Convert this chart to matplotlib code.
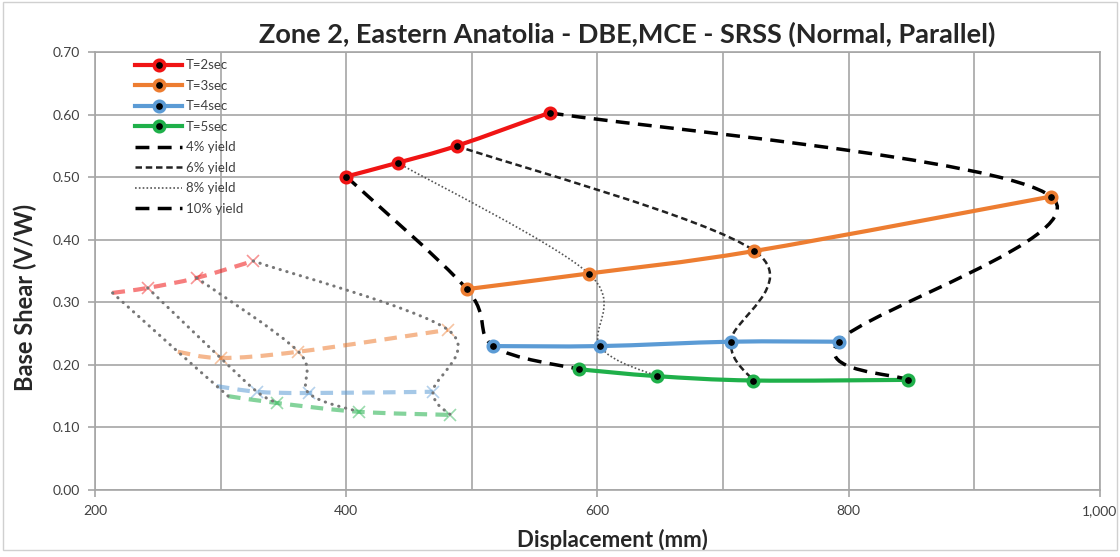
import numpy as np
import matplotlib
matplotlib.use("Agg")
import matplotlib.pyplot as plt
from matplotlib.path import Path
from matplotlib.patches import PathPatch, Rectangle
from matplotlib.lines import Line2D
from matplotlib.ticker import FuncFormatter, MultipleLocator

plt.rcParams['font.family'] = ['Lato', 'DejaVu Sans']

# MCE curves (displacement mm, base shear V/W), points = 4%, 8%, 6%, 10% yield
t2_x = [400, 441, 488, 562]
t2_y = [0.501, 0.523, 0.550, 0.603]
t3_x = [496, 593, 725, 961]
t3_y = [0.321, 0.346, 0.382, 0.469]
t4_x = [517, 602, 706, 792]
t4_y = [0.230, 0.230, 0.237, 0.237]
t5_x = [585, 647, 724, 847]
t5_y = [0.193, 0.182, 0.175, 0.176]

# DBE curves (faded)
d2_x = [214, 242, 281, 326]
d2_y = [0.315, 0.323, 0.339, 0.366]
d3_x = [266, 300, 362, 481]
d3_y = [0.221, 0.211, 0.221, 0.256]
d4_x = [297, 329, 370, 469]
d4_y = [0.166, 0.157, 0.155, 0.157]
d5_x = [306, 345, 410, 483]
d5_y = [0.150, 0.139, 0.125, 0.120]

series_names = ['T=2sec', 'T=3sec', 'T=4sec', 'T=5sec']
colors = ['#f01414', '#ed7d31', '#5b9bd5', '#1fb04a']
yield_names = ['4% yield', '6% yield', '8% yield', '10% yield']
yield_idx = [0, 2, 1, 3]   # which point of each curve belongs to each yield line

mce = [(t2_x, t2_y), (t3_x, t3_y), (t4_x, t4_y), (t5_x, t5_y)]
dbe = [(d2_x, d2_y), (d3_x, d3_y), (d4_x, d4_y), (d5_x, d5_y)]


def smooth_path(xs, ys):
    # excel-like smoothed line (catmull-rom as cubic bezier)
    pts = np.column_stack([xs, ys]).astype(float)
    n = len(pts)
    verts = [pts[0]]
    codes = [Path.MOVETO]
    for i in range(n - 1):
        p0 = pts[max(i - 1, 0)]
        p1 = pts[i]
        p2 = pts[i + 1]
        p3 = pts[min(i + 2, n - 1)]
        verts += [p1 + (p2 - p0) / 6, p2 - (p3 - p1) / 6, p2]
        codes += [Path.CURVE4] * 3
    return Path(verts, codes)


def add_curve(ax, xs, ys, **kw):
    patch = PathPatch(smooth_path(xs, ys), fill=False, **kw)
    ax.add_patch(patch)
    return patch


yield_styles = [
    dict(edgecolor='black', lw=2.5, linestyle=(0, (4, 2.4))),
    dict(edgecolor='#222222', lw=1.8, linestyle=(0, (2.6, 1.5))),
    dict(edgecolor='#555555', lw=1.2, linestyle=(0, (1, 1.3))),
    dict(edgecolor='black', lw=2.5, linestyle=(0, (4, 2.4))),
]

fig = plt.figure(figsize=(11.2, 5.57), dpi=100)
ax = fig.add_axes([0.0848, 0.1203, 0.8973, 0.7863])

# faded DBE set
for (xs, ys), c in zip(dbe, colors):
    add_curve(ax, xs, ys, edgecolor=c, lw=3, alpha=0.55, linestyle=(0, (3, 2)), zorder=2)
    ax.plot(xs[1:], ys[1:], linestyle='none', marker='x', ms=8, mew=1.2,
            color=c, alpha=0.45, zorder=2)
for k in yield_idx:
    xs = [s[0][k] for s in dbe]
    ys = [s[1][k] for s in dbe]
    add_curve(ax, xs, ys, edgecolor='#777777', lw=2.2, linestyle=(0, (0.1, 2.2)),
              capstyle='round', zorder=2.5)

# MCE set
for (xs, ys), c in zip(mce, colors):
    add_curve(ax, xs, ys, edgecolor=c, lw=3, capstyle='round', zorder=3)
for name, k, st in zip(yield_names, [0, 2, 1, 3], yield_styles):
    xs = [s[0][k] for s in mce]
    ys = [s[1][k] for s in mce]
    add_curve(ax, xs, ys, zorder=4, **st)
for (xs, ys), c in zip(mce, colors):
    ax.plot(xs, ys, linestyle='none', marker='o', ms=7.5, mfc='black', mec=c,
            mew=2.6, zorder=5)

ax.set_xlim(200, 1000)
ax.set_ylim(0, 0.7)
ax.xaxis.set_major_locator(MultipleLocator(200))
ax.xaxis.set_minor_locator(MultipleLocator(100))
ax.yaxis.set_major_locator(MultipleLocator(0.1))
ax.xaxis.set_major_formatter(FuncFormatter(lambda v, p: f"{v:,.0f}"))
ax.yaxis.set_major_formatter(FuncFormatter(lambda v, p: f"{v:.2f}"))
ax.grid(True, which='both', color='#a6a6a6', lw=1.2)
ax.set_axisbelow(True)
for sp in ax.spines.values():
    sp.set_color('#a6a6a6')
    sp.set_linewidth(1.2)
ax.tick_params(which='major', length=5, width=1.2, color='#a6a6a6',
               labelsize=10, labelcolor='#404040', pad=6)
ax.tick_params(which='minor', length=0)

ax.set_title('Zone 2, Eastern Anatolia - DBE,MCE - SRSS (Normal, Parallel)',
             fontsize=19.5, fontweight='bold', color='#262626', pad=7, x=0.53)
ax.set_xlabel('Displacement (mm)', fontsize=16, fontweight='bold', color='#262626')
ax.xaxis.set_label_coords(0.515, -0.09)
ax.set_ylabel('Base Shear (V/W)', fontsize=17, fontweight='bold', color='#262626')
ax.yaxis.set_label_coords(-0.058, 0.44)

handles = [Line2D([], [], color=c, lw=3, marker='o', ms=7.5, mfc='black', mec=c, mew=2.6)
           for c in colors]
for st in yield_styles:
    handles.append(Line2D([], [], color=st['edgecolor'], lw=st['lw'],
                          linestyle=st['linestyle']))
leg = ax.legend(handles, series_names + yield_names, loc='upper left',
                bbox_to_anchor=(0.035, 0.995), frameon=False, fontsize=9.5,
                handlelength=3.5, handletextpad=0.3, labelspacing=0.64,
                borderaxespad=0)
for t in leg.get_texts():
    t.set_color('#404040')

fig.patches.append(Rectangle((0.003, 0.012), 0.994, 0.985, transform=fig.transFigure,
                             fill=False, edgecolor='#d0d0d0', lw=1))

fig.savefig('out.png', dpi=100)
